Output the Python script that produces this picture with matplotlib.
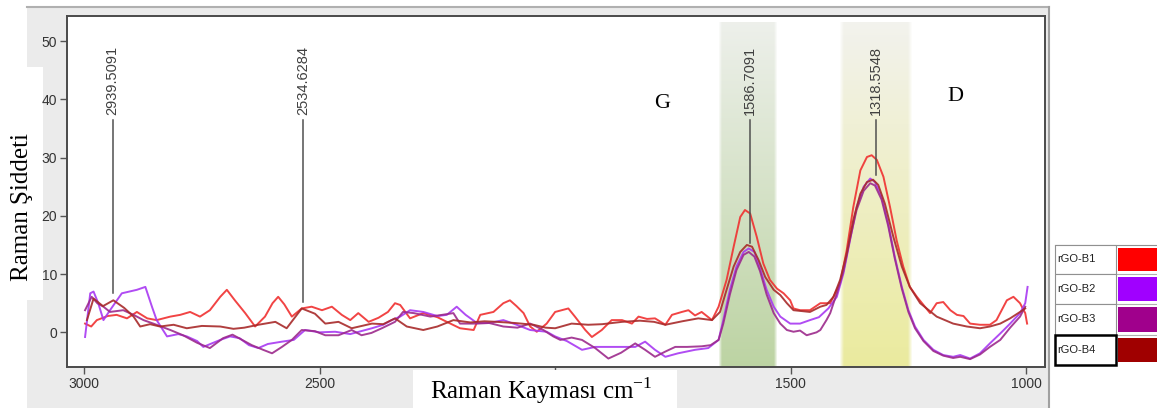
import numpy as np
import matplotlib
matplotlib.use('Agg')
import matplotlib.pyplot as plt
from matplotlib.patches import Rectangle
from matplotlib.lines import Line2D

# ---------------- data ----------------
series_names = ['rGO-B1', 'rGO-B2', 'rGO-B3', 'rGO-B4']
swatch_colors = ['#ff0000', '#a000ff', '#a0008c', '#a00000']
line_colors = ['#f03030', '#a838f2', '#9c2a8c', '#a82a2a']

# (Raman shift cm-1, intensity)
b1_points = [(2998, 1.5), (2985, 1.0), (2973, 2.1), (2950, 2.8), (2931, 3.0), (2909, 2.4),
             (2888, 3.5), (2866, 2.4), (2846, 2.1), (2817, 2.7), (2796, 3.0), (2775, 3.5),
             (2754, 2.7), (2733, 3.8), (2711, 6.1), (2697, 7.3), (2680, 5.5), (2658, 3.3),
             (2637, 1.0), (2616, 2.7), (2600, 5.0), (2588, 6.1), (2575, 4.8), (2559, 2.7),
             (2538, 4.1), (2517, 4.4), (2495, 3.8), (2474, 4.4), (2453, 3.0), (2435, 2.1),
             (2418, 3.3), (2396, 1.8), (2375, 2.5), (2355, 3.5), (2340, 5.0), (2329, 4.7),
             (2308, 2.4), (2280, 3.3), (2250, 2.6), (2230, 1.8), (2202, 0.7), (2173, 0.4),
             (2159, 3.0), (2131, 3.5), (2110, 5.0), (2096, 5.5), (2082, 4.5), (2067, 3.3),
             (2053, 1.0), (2039, 0.1), (2018, 1.5), (2000, 3.5), (1972, 4.1), (1958, 2.7),
             (1936, 0.4), (1922, -0.8), (1901, 0.4), (1880, 2.1), (1858, 2.1), (1837, 1.5),
             (1823, 2.7), (1805, 2.3), (1788, 2.4), (1766, 1.3), (1752, 3.0), (1731, 3.5),
             (1717, 3.8), (1703, 2.9), (1689, 3.5), (1667, 2.1), (1653, 4.4), (1636, 9.0),
             (1621, 14.7), (1607, 19.8), (1597, 21.0), (1586, 20.4), (1572, 16.4), (1558, 11.8),
             (1544, 9.0), (1529, 7.5), (1515, 6.7), (1501, 5.5), (1494, 4.1), (1480, 3.8),
             (1459, 3.8), (1437, 5.0), (1416, 5.0), (1402, 7.3), (1395, 8.4), (1381, 14.1),
             (1367, 21.5), (1352, 27.8), (1338, 30.1), (1328, 30.4), (1317, 29.6), (1303, 26.7),
             (1289, 21.5), (1275, 15.8), (1261, 11.3), (1247, 7.8), (1232, 6.1), (1218, 4.7),
             (1204, 3.3), (1190, 5.0), (1176, 5.2), (1161, 3.8), (1147, 3.0), (1133, 2.8),
             (1119, 1.5), (1098, 1.3), (1077, 1.3), (1063, 2.1), (1041, 5.5), (1027, 6.1),
             (1013, 5.0), (1002, 3.3), (998, 1.5)]

b2_points = [(2998, -0.8), (2987, 6.7), (2980, 7.0), (2970, 5.0), (2959, 2.1), (2945, 3.8),
             (2920, 6.7), (2888, 7.3), (2870, 7.8), (2856, 4.4), (2846, 2.1), (2824, -0.7),
             (2800, -0.3), (2782, -0.7), (2760, -1.5), (2747, -2.5), (2711, -1.3), (2690, -0.7),
             (2670, -1.0), (2650, -2.2), (2630, -2.7), (2610, -2.0), (2580, -1.6), (2555, -1.3),
             (2531, 0.4), (2500, 0.0), (2467, 0.1), (2435, -0.3), (2389, 0.7), (2365, 1.3),
             (2347, 2.1), (2329, 2.7), (2308, 3.8), (2280, 3.5), (2250, 2.8), (2230, 3.0),
             (2209, 4.4), (2190, 3.0), (2166, 1.6), (2140, 1.6), (2110, 2.1), (2085, 1.4),
             (2053, 0.4), (2018, 0.1), (2000, -0.7), (1975, -1.5), (1943, -3.0), (1915, -2.5),
             (1880, -2.5), (1850, -2.5), (1830, -2.5), (1809, -1.6), (1788, -3.0), (1766, -4.2),
             (1739, -3.6), (1703, -3.0), (1675, -2.7), (1653, -1.3), (1643, 2.1), (1629, 7.3),
             (1615, 11.3), (1600, 13.8), (1589, 14.4), (1577, 13.8), (1565, 11.0), (1551, 7.3),
             (1536, 4.4), (1522, 2.7), (1501, 1.5), (1480, 1.5), (1459, 2.1), (1440, 2.6),
             (1420, 4.1), (1402, 6.1), (1388, 10.1), (1374, 15.8), (1360, 21.5), (1345, 25.0),
             (1331, 26.4), (1321, 25.8), (1307, 23.3), (1293, 18.7), (1279, 13.0), (1264, 7.8),
             (1250, 3.8), (1236, 1.0), (1218, -1.3), (1197, -3.0), (1176, -3.9), (1155, -4.2),
             (1140, -3.9), (1119, -4.5), (1098, -3.6), (1077, -1.9), (1055, -0.2), (1034, 1.5),
             (1013, 3.3), (1002, 5.0), (997, 7.8)]

b3_points = [(2998, 3.8), (2984, 6.1), (2972, 5.0), (2959, 4.4), (2945, 3.5), (2917, 3.8),
             (2895, 3.0), (2874, 2.1), (2853, 1.5), (2817, 0.4), (2790, -0.5), (2760, -1.8),
             (2733, -2.7), (2705, -1.0), (2685, -0.4), (2660, -1.5), (2644, -2.2), (2620, -3.0),
             (2601, -3.6), (2580, -2.5), (2559, -1.3), (2538, 0.4), (2510, 0.2), (2488, -0.5),
             (2460, -0.5), (2432, 0.4), (2411, -0.5), (2390, -0.1), (2368, 0.7), (2340, 1.8),
             (2323, 3.5), (2300, 3.3), (2265, 2.7), (2240, 3.0), (2216, 3.3), (2202, 1.5),
             (2166, 1.5), (2140, 1.6), (2110, 1.0), (2080, 0.8), (2053, 1.5), (2025, 0.4),
             (2004, -0.7), (1989, -1.3), (1965, -0.9), (1943, -1.3), (1915, -2.7), (1887, -4.5),
             (1860, -3.5), (1830, -1.9), (1809, -3.0), (1788, -4.2), (1766, -3.3), (1745, -2.5),
             (1720, -2.5), (1689, -2.4), (1670, -2.2), (1653, -1.3), (1643, 1.5), (1629, 6.5),
             (1615, 10.7), (1600, 13.3), (1589, 13.8), (1577, 13.0), (1565, 10.5), (1551, 6.5),
             (1536, 3.3), (1522, 1.5), (1508, 0.4), (1494, 0.1), (1480, 0.3), (1466, -0.5),
             (1445, 0.0), (1437, 0.4), (1424, 2.1), (1416, 3.3), (1402, 6.7), (1388, 10.5),
             (1374, 16.0), (1360, 21.0), (1345, 24.3), (1331, 25.6), (1321, 25.2), (1307, 22.8),
             (1293, 18.3), (1279, 12.7), (1264, 7.5), (1250, 3.5), (1236, 0.7), (1218, -1.5),
             (1197, -3.2), (1176, -4.0), (1155, -4.4), (1140, -4.2), (1119, -4.6), (1098, -3.8),
             (1077, -2.5), (1055, -1.3), (1034, 0.8), (1013, 2.7), (1002, 4.4)]

b4_points = [(2994, 2.1), (2980, 5.8), (2960, 4.5), (2938, 5.5), (2915, 4.2), (2895, 2.7),
             (2881, 1.0), (2860, 1.4), (2839, 1.0), (2810, 1.3), (2782, 0.7), (2750, 1.1),
             (2711, 1.0), (2683, 0.6), (2660, 0.8), (2630, 1.3), (2594, 1.8), (2570, 0.7),
             (2538, 4.1), (2510, 3.2), (2488, 1.5), (2460, 1.8), (2432, 0.7), (2389, 1.5),
             (2365, 1.4), (2340, 2.4), (2315, 1.0), (2280, 0.4), (2250, 1.0), (2216, 2.1),
             (2180, 1.7), (2150, 1.9), (2124, 1.8), (2085, 1.6), (2046, 1.3), (2020, 0.8),
             (2000, 0.7), (1965, 1.5), (1930, 1.3), (1900, 1.4), (1858, 1.8), (1820, 2.0),
             (1790, 1.8), (1766, 1.3), (1730, 1.9), (1696, 2.4), (1667, 2.1), (1650, 3.5),
             (1636, 7.3), (1621, 11.3), (1607, 13.8), (1593, 15.0), (1582, 14.7), (1568, 12.4),
             (1554, 9.5), (1536, 7.3), (1522, 6.4), (1508, 5.0), (1494, 3.8), (1459, 3.5),
             (1437, 4.4), (1424, 4.7), (1409, 6.1), (1395, 9.0), (1381, 13.5), (1367, 19.3),
             (1352, 23.8), (1338, 25.8), (1325, 26.2), (1314, 25.3), (1300, 22.1), (1282, 16.4),
             (1264, 11.3), (1247, 7.8), (1225, 5.0), (1190, 2.7), (1155, 1.5), (1126, 1.0),
             (1098, 0.7), (1077, 1.0), (1055, 1.5), (1034, 2.4), (1013, 3.5), (1002, 4.1)]

all_points = [b1_points, b2_points, b3_points, b4_points]

peak_positions = [2939.5091, 2534.6284, 1586.7091, 1318.5548]
peak_marker_y = [6.7, 5.2, 15.3, 27.0]

band_g = (1654, 1527)
band_d = (1397, 1240)

x_ticks = [3000, 2500, 2000, 1500, 1000]
x_tick_labels = ['3000', '2500', '', '1500', '1000']
y_ticks = [0, 10, 20, 30, 40, 50]

# ---------------- figure ----------------
W, H = 1157, 408
fig = plt.figure(figsize=(W / 100, H / 100), dpi=100, facecolor='white')

def fx(px):
    return px / W

def fy(py):
    return 1 - py / H

sans = ['Liberation Sans', 'DejaVu Sans']
serif = ['Liberation Serif', 'DejaVu Serif']
plt.rcParams['mathtext.fontset'] = 'custom'
plt.rcParams['mathtext.rm'] = 'Liberation Serif'

# grey panel behind plot
fig.patches.append(Rectangle((fx(27), 0), fx(1050) - fx(27), fy(7), transform=fig.transFigure,
                             facecolor='#ebebeb', edgecolor='none', zorder=-5))
fig.add_artist(Line2D([fx(27), fx(1049)], [fy(7), fy(7)], color='#b0b0b0', lw=1.5, zorder=-4))
fig.add_artist(Line2D([fx(1049), fx(1049)], [fy(7), 0], color='#a0a0a0', lw=1.5, zorder=-4))
# white patches behind the axis titles (under the tick labels)
fig.patches.append(Rectangle((0, fy(300)), fx(43), fy(67) - fy(300), transform=fig.transFigure,
                             facecolor='white', edgecolor='none', zorder=-3))

ax = fig.add_axes([fx(66.7), fy(367), fx(1045) - fx(66.7), fy(16) - fy(367)])
ax.set_facecolor('white')

# shaded gradient bands
def band(x0, x1, bottom_rgb, top_rgb):
    ny, nx = 100, 60
    t = np.linspace(0, 1, ny)[:, None]
    rgb = np.array(bottom_rgb)[None, None, :] * (1 - t[..., None]) + np.array(top_rgb)[None, None, :] * t[..., None]
    rgb = np.broadcast_to(rgb, (ny, nx, 3))
    u = np.linspace(-1, 1, nx)
    alpha = np.clip((1 - np.abs(u)) / 0.12, 0, 1)
    img = np.dstack([rgb, np.broadcast_to(alpha[None, :], (ny, nx))])
    ax.imshow(img, extent=(x0, x1, -5.95, 53.2), origin='lower', aspect='auto',
              interpolation='bilinear', zorder=0.5)

band(band_g[0], band_g[1], (0.74, 0.83, 0.64), (0.93, 0.94, 0.92))
band(band_d[0], band_d[1], (0.92, 0.92, 0.62), (0.95, 0.95, 0.93))
ax.set_xlim(3037, 960)
ax.set_ylim(-5.95, 54.3)

# spectra
for pts, col in zip(all_points, line_colors):
    xs = [p[0] for p in pts]
    ys = [p[1] for p in pts]
    ax.plot(xs, ys, color=col, lw=1.4, alpha=0.9, zorder=2, solid_joinstyle='round')

# peak markers
for xp, ym in zip(peak_positions, peak_marker_y):
    ax.plot([xp, xp], [36.4, ym], color='#505050', lw=1.1, zorder=3)
    ax.text(xp, 43.3, f'{xp:.4f}', rotation=90, ha='center', va='center',
            fontsize=10.5, color='#404040', family=sans, zorder=3)

ax.text(1773, 39.3, 'G', ha='center', va='center', fontsize=16, family=serif, color='black')
ax.text(1151, 40.4, 'D', ha='center', va='center', fontsize=16, family=serif, color='black')

# axes styling
for s in ax.spines.values():
    s.set_color('#4a4a4a')
    s.set_linewidth(1.4)
ax.set_xticks(x_ticks)
ax.set_xticklabels(x_tick_labels)
ax.set_yticks(y_ticks)
ax.tick_params(direction='out', length=5, width=1, color='#555555', labelsize=10,
               labelcolor='#333333', pad=2)
for lab in ax.get_xticklabels() + ax.get_yticklabels():
    lab.set_family(sans)

# axis titles
fig.text(fx(22), fy(207), 'Raman Şiddeti', rotation=90, ha='center', va='center',
         fontsize=18, family=serif, zorder=3)
fig.patches.append(Rectangle((fx(413), 0), fx(677) - fx(413), fy(370), transform=fig.transFigure,
                             facecolor='white', edgecolor='none', zorder=1))
fig.text(fx(541), fy(391), 'Raman Kayması cm$^{-1}$', ha='center', va='center',
         fontsize=18, family=serif, zorder=3)

# legend table
row_edges = [245, 274, 304, 335, 365]
for i, (name, col) in enumerate(zip(series_names, swatch_colors)):
    top, bot = row_edges[i], row_edges[i + 1]
    last = i == len(series_names) - 1
    fig.patches.append(Rectangle((fx(1055), fy(bot)), fx(1116) - fx(1055), fy(top) - fy(bot),
                                 transform=fig.transFigure, facecolor='white',
                                 edgecolor='black' if last else '#909090',
                                 lw=1.8 if last else 0.8, zorder=4))
    fig.patches.append(Rectangle((fx(1118), fy(bot - 3)), fx(1157) - fx(1118), fy(top + 3) - fy(bot - 3),
                                 transform=fig.transFigure, facecolor=col, edgecolor='none', zorder=4))
    fig.text(fx(1057), fy((top + bot) / 2), name, ha='left', va='center', fontsize=8,
             family=sans, color='#222222', zorder=5)
fig.add_artist(Line2D([fx(1055), fx(1157)], [fy(245), fy(245)], color='#909090', lw=0.8, zorder=4))
for yy in row_edges[1:-1]:
    fig.add_artist(Line2D([fx(1116), fx(1157)], [fy(yy), fy(yy)], color='#b0b0b0', lw=0.8, zorder=4))

fig.savefig('out.png', dpi=100, facecolor='white')
